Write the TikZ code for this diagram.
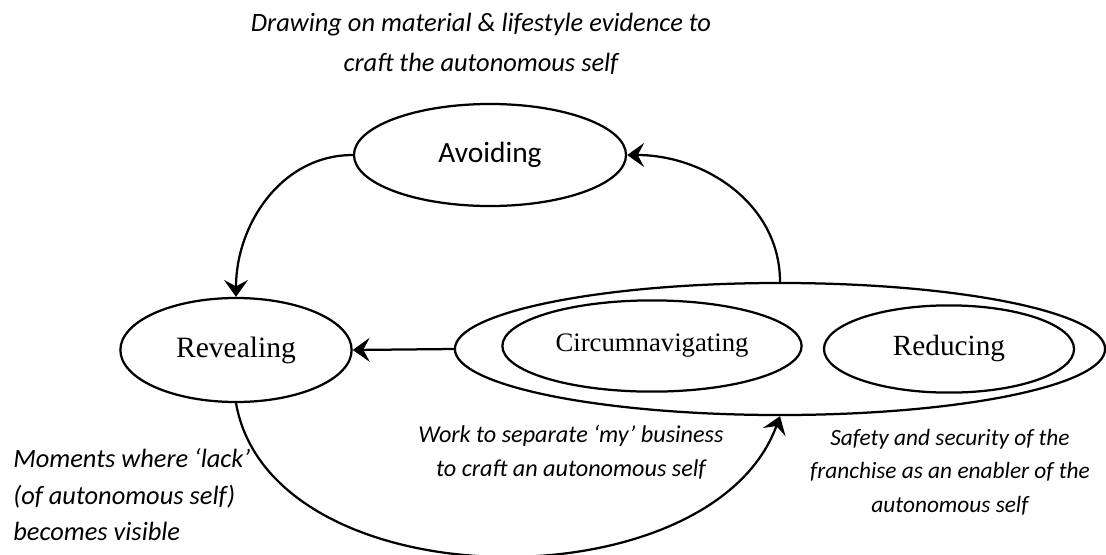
\documentclass[tikz,border=0pt]{standalone}
\usepackage{fontspec}
\setmainfont{Liberation Serif}
\newfontfamily\calibri{Carlito}
\usetikzlibrary{shapes.geometric}
\usetikzlibrary{arrows.meta}

\tikzset{
  stage/.style={draw, ellipse, line width=1.6pt, inner sep=0pt},
  note/.style={font=\calibri\itshape\fontsize{16.6}{23.8}\selectfont, align=center, inner sep=0pt},
  flow/.style={line width=1.6pt, -{Stealth[length=12pt,width=17pt,inset=4.5pt]}}
}

\begin{document}
\begin{tikzpicture}[x=0.025cm,y=0.025cm]
  \useasboundingbox (0,0) rectangle (1106,-554);
  % annotations
  \node[note, font=\calibri\itshape\fontsize{18.8}{28}\selectfont] (drawing) at (481,-44) {Drawing on material \& lifestyle evidence to\\craft the autonomous self};
  \node[note, font=\calibri\itshape\fontsize{17.2}{24.2}\selectfont] (work) at (571,-452) {Work to separate ‘my’ business\\to craft an autonomous self};
  \node[note] (safety) at (950,-472) {Safety and security of the\\franchise as an enabler of the\\autonomous self};
  \node[note, align=left, anchor=west, font=\calibri\itshape\fontsize{18.8}{26}\selectfont] (moments) at (13,-495) {Moments where ‘lack’\\(of autonomous self)\\becomes visible};
  % stages
  \node[stage, minimum width=6.8cm, minimum height=2.55cm, font=\calibri\fontsize{20.9}{25}\selectfont] (avoid) at (490,-155) {Avoiding};
  \node[stage, minimum width=5.78cm, minimum height=2.6cm, font=\fontsize{21}{25}\selectfont] (reveal) at (236,-350) {Revealing};
  \node[stage, minimum width=16.25cm, minimum height=3.3cm] (outer) at (780,-349) {};
  \node[stage, minimum width=7.48cm, minimum height=2.28cm, font=\fontsize{19}{23}\selectfont] (circum) at (652,-346) {Circumnavigating};
  \node[stage, minimum width=6.25cm, minimum height=2.18cm, font=\fontsize{20.8}{25}\selectfont] (reduce) at (949,-349) {Reducing};
  % connectors
  \draw[flow] (avoid.west) to[out=180,in=90] (reveal.north);
  \draw[flow] (outer.north) to[out=90,in=0] (avoid.east);
  \draw[flow] (outer.west) -- (reveal.east);
  \draw[flow] (reveal.south) to[out=-80,in=-110,looseness=0.95] (outer.south);
\end{tikzpicture}
\end{document}
